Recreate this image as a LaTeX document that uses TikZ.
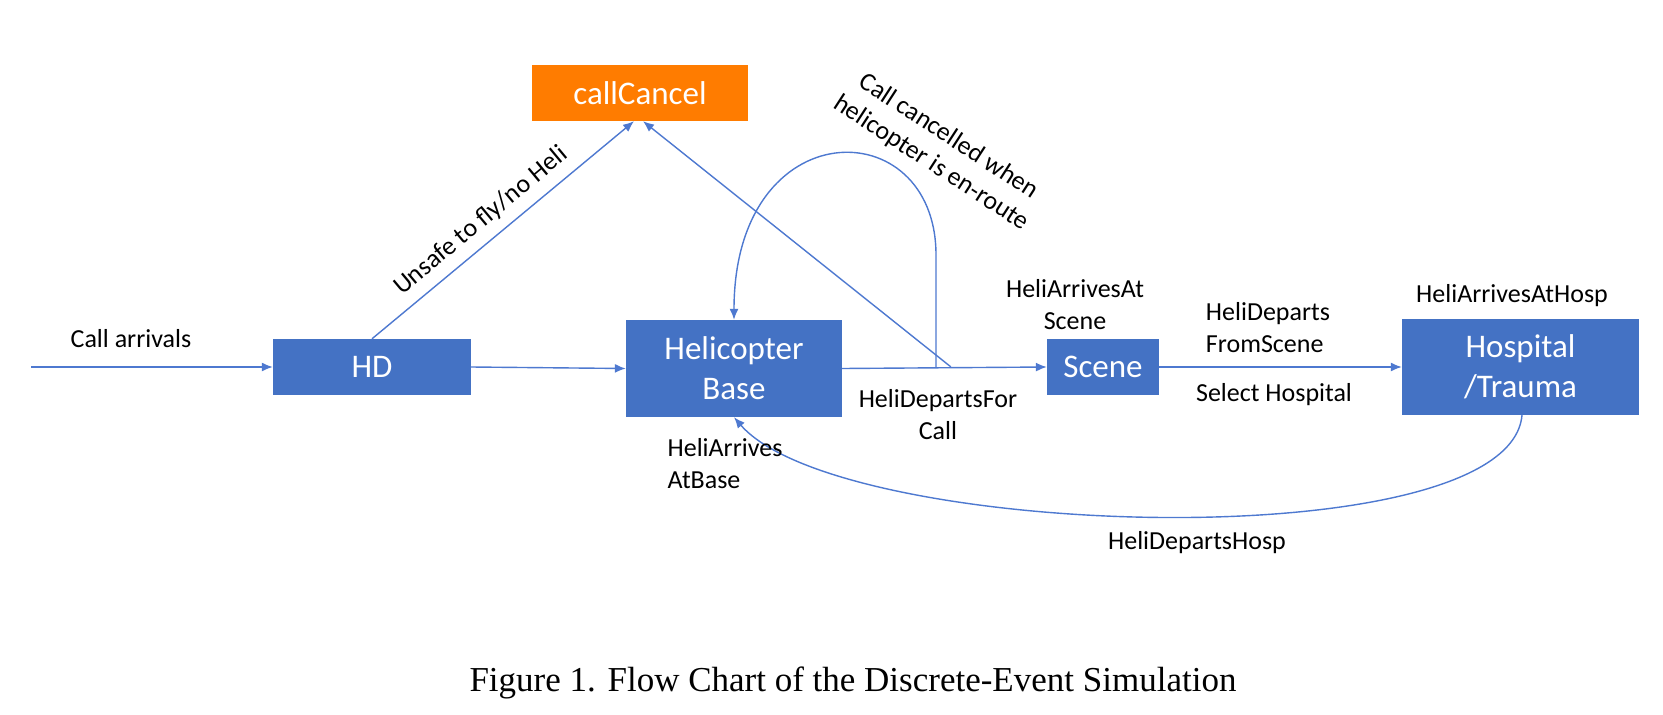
\documentclass[tikz,border=0pt]{standalone}
\usepackage{fontspec}
\setmainfont{Carlito}
\newfontfamily\titlefont{Liberation Serif}
\usetikzlibrary{arrows.meta,calc}
\definecolor{boxblue}{RGB}{68,114,196}
\definecolor{lineblue}{RGB}{78,121,208}
\definecolor{boxorange}{RGB}{255,124,0}
\tikzset{
  bluebox/.style={fill=boxblue, draw=none, text=white, align=center,
    inner sep=0pt, font=\fontsize{33}{40}\selectfont},
  orangebox/.style={fill=boxorange, draw=none, text=white, align=center,
    inner sep=0pt, font=\fontsize{33}{40}\selectfont},
  lbl/.style={text=black, align=center, inner sep=0pt,
    font=\fontsize{26}{32}\selectfont},
  conn/.style={draw=lineblue, line width=1.4pt,
    -{Latex[length=11pt,width=9pt]}},
  plainline/.style={draw=lineblue, line width=1.4pt}
}
\begin{document}
\begin{tikzpicture}[x=1pt,y=-1pt]
\useasboundingbox[fill=white] (0,0) rectangle (1663,715);

% boxes
\node[orangebox, minimum width=216pt, minimum height=56pt] (cc) at (640,93) {callCancel};
\node[bluebox, minimum width=198pt, minimum height=56pt] (hd) at (372,367) {HD};
\node[bluebox, minimum width=216pt, minimum height=97pt] (hb) at (734,368.5) {Helicopter\\Base};
\node[bluebox, minimum width=112pt, minimum height=56pt] (sc) at (1103,367) {Scene};
\node[bluebox, minimum width=237pt, minimum height=96pt] (ho) at (1520.5,367) {Hospital\\/Trauma};

% helper coordinates
\coordinate (start) at (31,367);
\coordinate (j1) at (936,367);
\coordinate (j2) at (951,367);
\coordinate (hob) at (1522,415);

% connectors
\draw[conn] (start) -- (hd.west);
\draw[conn] (hd.east) -- (hb.west);
\draw[conn] (hb.east) -- (sc.west);
\draw[conn] (sc.east) -- (ho.west);
\draw[conn] (hd.north) -- ($(cc.south)+(-6,0)$);
\draw[conn] (j2) -- ($(cc.south)+(3,0)$);
\draw[conn] (j1) -- (936,255) .. controls (936,110) and (734,110) .. (hb.north);
\draw[conn] (hob) .. controls (1510,560) and (840,540) .. (hb.south);

% labels
\node[lbl] (l1) at (131,339) {Call arrivals};
\node[lbl, rotate=39.8] (l2) at (481,221) {Unsafe to fly/no Heli};
\node[lbl, rotate=-33] (l3) at (940,150) {Call cancelled when\\helicopter is en-route};
\node[lbl] (l4) at (1075,305) {HeliArrivesAt\\Scene};
\node[lbl, align=left] (l5) at (1268,328) {HeliDeparts\\FromScene};
\node[lbl] (l6) at (1274,395) {Select Hospital};
\node[lbl] (l7) at (1512,296) {HeliArrivesAtHosp};
\node[lbl] (l8) at (938,415) {HeliDepartsFor\\Call};
\node[lbl, align=left] (l9) at (725,464) {HeliArrives\\AtBase};
\node[lbl] (l10) at (1197,543) {HeliDepartsHosp};

% caption
\node[inner sep=0pt, font=\titlefont\fontsize{35}{40}\selectfont] (cap) at (853,683)
  {Figure 1. Flow Chart of the Discrete-Event Simulation};
\end{tikzpicture}
\end{document}
